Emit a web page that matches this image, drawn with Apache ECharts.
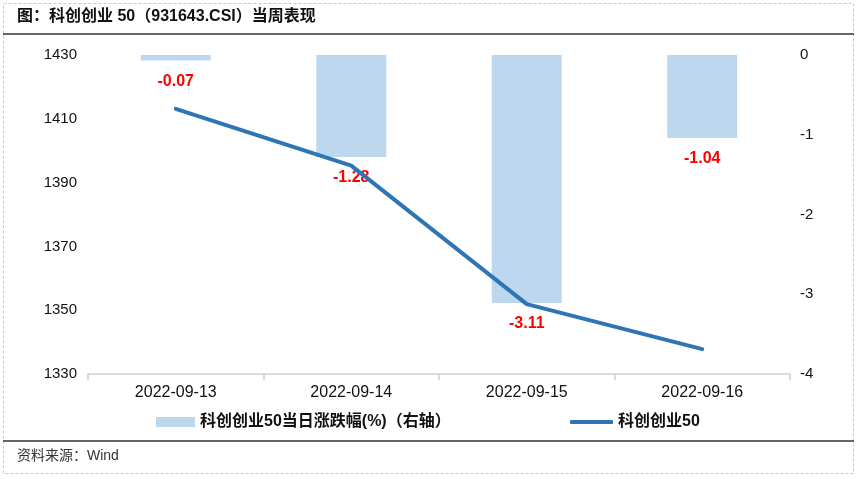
<!DOCTYPE html>
<html><head><meta charset="utf-8">
<script src="https://cdn.jsdelivr.net/npm/echarts@6/dist/echarts.min.js"></script>
<style>html,body{margin:0;padding:0;background:#fff}#c{width:857px;height:479px}</style>
</head><body><div id="c"></div>
<script>
const categories = ['2022-09-13','2022-09-14','2022-09-15','2022-09-16'];
const dailyChange = [-0.07, -1.28, -3.11, -1.04];
const indexClose = [1413.1, 1395.3, 1351.9, 1337.8];
const leftTicks = [1330, 1430, 20];
const rightTicks = [-4, 0, 1];
const titleText = '图：科创创业 50（931643.CSI）当周表现';
const sourceText = '资料来源：Wind';
const barName = '科创创业50当日涨跌幅(%)（右轴）';
const lineName = '科创创业50';

const FONT = 'Arial, "Liberation Sans", "Noto Sans CJK SC", sans-serif';
const chart = echarts.init(document.getElementById('c'), null, {renderer:'canvas'});
const legendText = {fontSize:16,fontWeight:'bold',color:'#111',fontFamily:FONT};
chart.setOption({
  animation:false,
  textStyle:{fontFamily:FONT},
  graphic:[
    {type:'rect',shape:{x:3.5,y:3.5,width:850,height:470},style:{fill:'none',stroke:'#c8c8c8',lineWidth:1,lineDash:[3,2]}},
    {type:'line',shape:{x1:3,y1:34,x2:854,y2:34},style:{stroke:'#2b3440',lineWidth:1.5}},
    {type:'line',shape:{x1:3,y1:441,x2:854,y2:441},style:{stroke:'#2b3440',lineWidth:1.5}},
    {type:'text',left:17,top:9,style:{text:titleText,font:'bold 16px '+FONT,fill:'#111'}},
    {type:'text',left:17,top:449,style:{text:sourceText,font:'14px '+FONT,fill:'#333'}}
  ],
  legend:[
    {top:409,left:151,itemWidth:39,itemHeight:10,
     textStyle:legendText,data:[{name:barName,icon:'rect'}]},
    {top:409,left:565,itemWidth:43,itemHeight:4,
     textStyle:legendText,data:[{name:lineName,icon:'roundRect'}]}
  ],
  grid:{left:88,right:67,top:55,bottom:105,containLabel:false},
  xAxis:{
    type:'category',data:categories,
    axisLine:{onZero:false,lineStyle:{color:'#d0d0d0',width:1.5}},
    axisTick:{show:true,length:6,lineStyle:{color:'#d0d0d0',width:1.5}},
    axisLabel:{color:'#111',fontSize:16,margin:11}
  },
  yAxis:[
    {type:'value',min:leftTicks[0],max:leftTicks[1],interval:leftTicks[2],
     axisLine:{show:false},axisTick:{show:false},splitLine:{show:false},
     axisLabel:{color:'#111',fontSize:15,margin:11,formatter:v=>String(v)}},
    {type:'value',min:rightTicks[0],max:rightTicks[1],interval:rightTicks[2],position:'right',
     axisLine:{show:false},axisTick:{show:false},splitLine:{show:false},
     axisLabel:{color:'#111',fontSize:15,margin:10,formatter:v=>String(v)}}
  ],
  series:[
    {name:barName,type:'bar',yAxisIndex:1,data:dailyChange,barWidth:70,
     itemStyle:{color:'#BDD7EE'},
     label:{show:true,position:'bottom',distance:13,color:'#ff0000',fontWeight:'bold',fontSize:16,fontFamily:FONT}},
    {name:lineName,type:'line',yAxisIndex:0,data:indexClose,symbol:'none',z:3,
     lineStyle:{color:'#2E75B6',width:4,cap:'round'},itemStyle:{color:'#2E75B6'}}
  ]
});
</script></body></html>
